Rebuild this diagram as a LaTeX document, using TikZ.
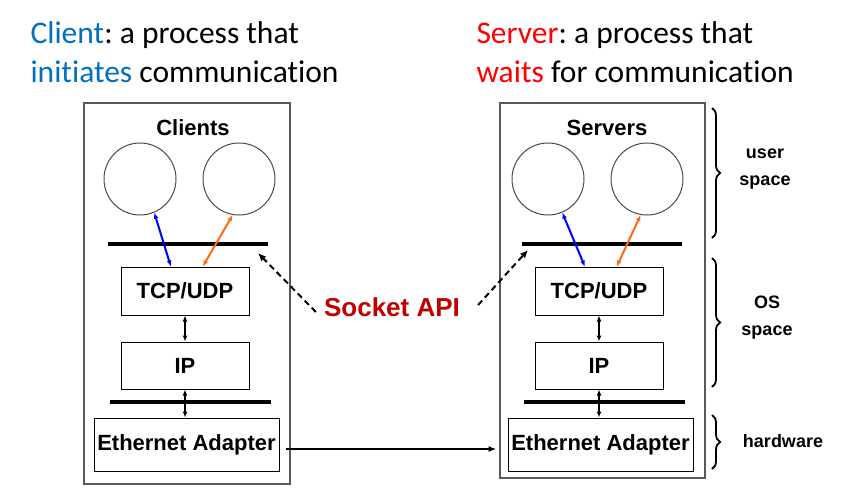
\documentclass[tikz,border=0pt]{standalone}
\usepackage{fontspec}
\setmainfont{Liberation Sans}
\newfontfamily\titlefont[Ligatures=NoCommon]{Carlito}
\usetikzlibrary{positioning,decorations.pathreplacing,arrows.meta}
\definecolor{clientblue}{HTML}{0070C0}
\definecolor{serverred}{HTML}{FF0000}
\definecolor{socketred}{HTML}{C00000}
\definecolor{linkorange}{HTML}{FF6A13}
\frenchspacing

\begin{document}
\begin{tikzpicture}[x=1pt,y=-1pt,
    hostbox/.style={draw=black!65,line width=1.2pt},
    layerbox/.style={draw,line width=1pt,inner sep=0pt,font=\bfseries\fontsize{22}{24}\selectfont},
    proc/.style={circle,draw=black!70,line width=1pt,minimum size=72pt,inner sep=0pt},
    bus/.style={line width=4pt},
    link/.style={{Latex[length=6pt,width=5pt]}-{Latex[length=6pt,width=5pt]},line width=1.2pt},
    api/.style={-{Latex[length=8pt,width=7pt]},dash pattern=on 6pt off 4pt,line width=2pt},
    spacebrace/.style={decorate,decoration={brace,amplitude=8pt},line width=1.8pt},
    spacelabel/.style={font=\bfseries\fontsize{18}{27}\selectfont,align=center}]
\useasboundingbox (0,0) rectangle (843,498);
% titles
\node[anchor=west,align=left,font=\titlefont\fontsize{31.5}{39}\selectfont] (clienttxt) at (27,52)
    {\textcolor{clientblue}{Client}: a process that\\\textcolor{clientblue}{initiates} communication};
\node[anchor=west,align=left,font=\titlefont\fontsize{31.5}{39}\selectfont] (servertxt) at (473,52)
    {\textcolor{serverred}{Server}: a process that\\\textcolor{serverred}{waits} for communication};
% hosts
\draw[hostbox] (84,103) rectangle (290,484);
\draw[hostbox] (500,103) rectangle (705,478);
\foreach \s/\dx/\cx/\title in {L/0/0/Clients, R/414/408/Servers} {
    \node[font=\bfseries\fontsize{22}{24}\selectfont] (title\s) at (193+\dx,128) {\title};
    \node[proc] (p\s1) at (140+\cx,179) {};
    \node[proc] (p\s2) at (239+\cx,179) {};
    \node[layerbox,minimum width=128pt,minimum height=48pt] (tcp\s) at (185+\dx,291) {TCP/UDP};
    \node[layerbox,minimum width=128pt,minimum height=47pt] (ip\s) at (185+\dx,365.5) {IP};
    \node[layerbox,minimum width=185pt,minimum height=53pt] (eth\s) at (186.5+\dx,444.5) {Ethernet Adapter};
    \coordinate (busA\s) at (108+\dx,244);
    \coordinate (busB\s) at (268+\dx,244);
    \draw[bus] (busA\s) -- (busB\s);
    \draw[bus] (110+\dx,402) -- (271+\dx,402);
    \draw[link,line width=2pt,blue] (p\s1.-67) -- (tcp\s.120);
    \draw[link,line width=2pt,linkorange] (p\s2.-100) -- (tcp\s.54);
    \draw[link] (tcp\s) -- (ip\s);
    \draw[link] (ip\s.south) -- (ip\s.south |- eth\s.north);
}
% socket api
\node[text=socketred,font=\bfseries\fontsize{26}{28}\selectfont,inner sep=0pt] (socket) at (392,307) {Socket API};
\coordinate (apiL) at (258,253);
\coordinate (apiR) at (528,250);
\draw[api] (socket.west) ++(-8,5) -- (apiL);
\draw[api] (socket.east) ++(18,-2) -- (apiR);
\draw[-{Latex[length=8pt,width=6pt]},line width=1.8pt,shorten <=6pt,shorten >=11pt]
    ([yshift=-4.5pt]ethL.east) -- ([yshift=-4.5pt]ethR.west);
% spaces
\draw[spacebrace] (712,108) -- (712,238);
\draw[spacebrace] (712,258) -- (712,387);
\draw[spacebrace] (712,415) -- (712,469);
\node[spacelabel] (user) at (765,169) {user\\space};
\node[spacelabel] (os) at (767,318) {OS\\space};
\node[spacelabel] (hw) at (783,441) {hardware};
\end{tikzpicture}
\end{document}
